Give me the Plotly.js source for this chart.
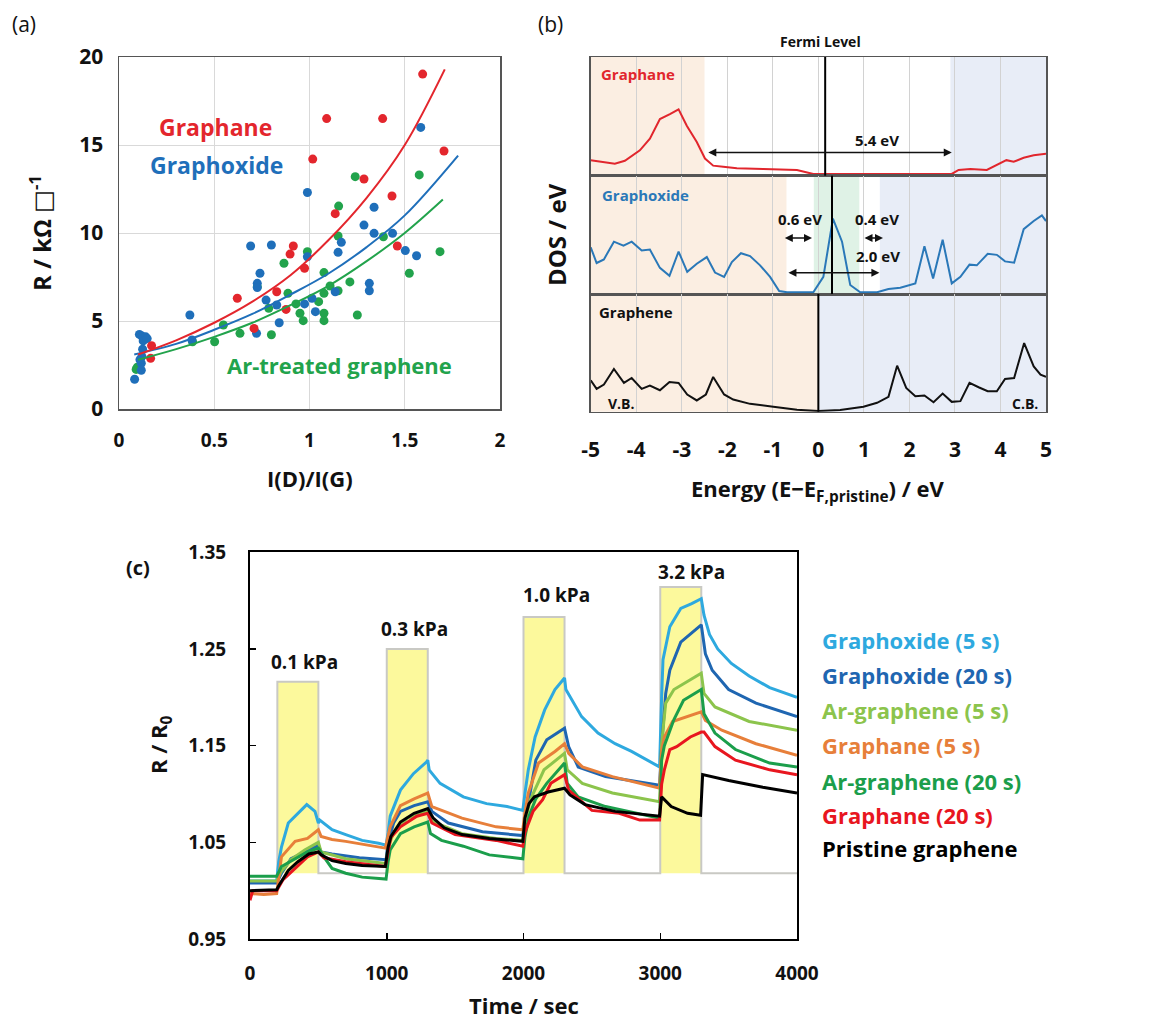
<!DOCTYPE html>
<html>
<head>
<meta charset="utf-8">
<script src="https://cdn.plot.ly/plotly-3.0.1.min.js"></script>
<style>
html,body{margin:0;padding:0;background:#fff;}
#chart{width:1156px;height:1023px;}
</style>
</head>
<body>
<div id="chart"></div>
<script>
// ---------- Panel (a): R vs I(D)/I(G) ----------
const aRedX = [1.594,1.09,1.384,1.706,1.017,1.286,1.433,1.135,0.915,0.898,1.461,0.974,0.621,0.828,0.877,0.709,0.171,0.166];
const aRedY = [19.03,16.5,16.5,14.66,14.2,13.07,12.1,11.1,9.26,8.8,9.26,8.0,6.29,6.66,5.66,4.58,3.6,2.88];
const aBlueX = [1.584,0.989,1.339,1.286,1.339,1.436,1.167,1.150,1.503,1.562,0.691,0.800,0.989,0.740,0.726,0.726,1.314,1.314,1.135,0.772,0.828,0.974,1.013,1.031,0.841,0.722,0.372,0.383,0.107,0.120,0.140,0.127,0.148,0.124,0.120,0.117,0.082,0.110,0.117];
const aBlueY = [16.0,12.3,11.46,10.45,9.98,9.98,9.47,8.9,9.0,8.71,9.26,9.32,8.65,7.71,7.14,6.9,7.14,6.72,6.66,6.19,5.91,5.97,6.29,5.53,4.9,4.3,5.34,3.92,4.24,4.15,4.1,3.87,4.0,3.4,2.98,2.6,1.69,2.8,2.2];
const aGreenX = [1.24,1.576,1.153,1.150,1.388,0.989,1.685,0.866,1.076,1.524,1.212,1.108,1.150,1.076,0.726,0.887,1.048,0.929,0.786,0.950,1.076,1.251,0.967,1.076,0.548,0.635,0.800,0.502,0.386,0.096,0.090];
const aGreenY = [13.2,13.3,11.53,9.83,9.79,8.94,8.94,8.28,7.75,7.71,7.22,6.99,6.72,6.57,6.95,6.57,6.1,5.97,5.72,5.44,5.44,5.34,5.02,5.02,4.77,4.3,4.22,3.82,3.82,2.37,2.25];
const fitRedX = [0.10,0.30,0.50,0.70,0.90,1.10,1.30,1.50,1.71];
const fitRedY = [3.1,3.9,4.9,6.1,7.6,9.6,12.0,15.0,19.3];
const fitBlueX = [0.08,0.30,0.50,0.70,0.90,1.10,1.30,1.50,1.78];
const fitBlueY = [3.1,3.7,4.5,5.4,6.5,7.7,9.2,11.0,14.4];
const fitGreenX = [0.10,0.30,0.50,0.70,0.90,1.10,1.30,1.50,1.70];
const fitGreenY = [2.8,3.4,4.1,4.9,5.9,7.0,8.4,10.0,11.9];

// ---------- Panel (b): DOS ----------
const graphaneE = [-5,-4.72,-4.47,-4.25,-3.92,-3.70,-3.48,-3.26,-3.07,-2.89,-2.67,-2.49,-2.31,-2.09,-1.79,-1.21,-0.77,-0.47,-0.11,0.15,2.93,3.08,3.34,3.70,3.92,4.13,4.29,4.51,4.73,5.0];
const graphaneDOS = [0.118,0.099,0.088,0.113,0.202,0.301,0.469,0.511,0.553,0.413,0.273,0.132,0.071,0.062,0.048,0.042,0.034,0.034,0.0,0.0,0.0,0.034,0.042,0.034,0.076,0.118,0.104,0.138,0.16,0.172];
const graphoxideE = [-5,-4.87,-4.71,-4.49,-4.28,-4.10,-3.88,-3.70,-3.48,-3.27,-3.07,-2.88,-2.67,-2.45,-2.27,-2.07,-1.90,-1.70,-1.50,-1.28,-1.06,-0.86,-0.69,-0.11,0.11,0.32,0.52,0.70,0.92,1.29,1.54,1.80,2.13,2.33,2.52,2.73,2.93,3.12,3.32,3.48,3.72,3.92,4.10,4.30,4.51,4.73,4.91,5.0];
const graphoxideDOS = [0.386,0.251,0.282,0.434,0.40,0.434,0.358,0.366,0.209,0.141,0.349,0.175,0.245,0.302,0.169,0.132,0.259,0.335,0.31,0.231,0.132,0.011,0.0,0.0,0.132,0.631,0.434,0.062,0.0,0.0,0.028,0.039,0.076,0.394,0.118,0.451,0.076,0.132,0.237,0.231,0.33,0.321,0.265,0.254,0.541,0.611,0.659,0.611];
const grapheneE = [-5,-4.87,-4.71,-4.49,-4.27,-4.10,-3.88,-3.70,-3.48,-3.27,-3.07,-2.88,-2.67,-2.47,-2.31,-2.07,-1.87,-1.50,-0.99,-0.47,0,0.48,0.99,1.29,1.54,1.73,1.93,2.13,2.33,2.53,2.73,2.93,3.12,3.32,3.52,3.72,3.92,4.10,4.30,4.52,4.73,4.88,5.0];
const grapheneDOS = [0.263,0.19,0.227,0.36,0.241,0.283,0.19,0.218,0.178,0.249,0.241,0.142,0.091,0.142,0.292,0.142,0.099,0.062,0.037,0.012,0.0,0.01,0.037,0.071,0.122,0.388,0.198,0.127,0.133,0.076,0.15,0.079,0.085,0.241,0.204,0.17,0.17,0.275,0.283,0.581,0.382,0.312,0.292];
const energyTicks = [-5,-4,-3,-2,-1,0,1,2,3,4,5];
const energyTickText = ['-5','-4','-3','-2','-1','0','1','2','3','4','5'];
// shaded bands [from, to] in eV
const graphaneVB = [-5,-2.5], graphaneCB = [2.9,5];
const graphoxideVB = [-5,-0.7], graphoxideMid = [-0.1,0.9], graphoxideCB = [1.35,5];
const grapheneVB = [-5,0], grapheneCB = [0,5];
const fermiLevels = [0.15, 0.3, 0.0]; // graphane, graphoxide, graphene
const gapArrows = [
  {from:-2.45, to:2.93, y:0.183, ax:'y2'},
  {from:-0.77, to:-0.14, y:0.465, ax:'y3'},
  {from:0.98,  to:1.42,  y:0.465, ax:'y3'},
  {from:-0.69, to:1.34,  y:0.167, ax:'y3'}
];
const gapLabels = ['5.4 eV','0.6 eV','0.4 eV','2.0 eV'];
const gapLabelPos = [[1.29,0.29,'y2'],[-0.40,0.626,'y3'],[1.29,0.626,'y3'],[1.31,0.313,'y3']];

// ---------- Panel (c): R/R0 vs time ----------
const pulseStart = [200,1000,2000,3000];
const pulseEnd = [500,1300,2300,3300];
const pulseTop = [1.216,1.25,1.283,1.314];
const pulseBase = 1.018;
const pulseLabels = ['0.1 kPa','0.3 kPa','1.0 kPa','3.2 kPa'];
const pulseLabelT = [402,1206,2242,3229];
const pulseLabelV = [1.237,1.271,1.306,1.330];

const gox5T = [0,100,195,210,230,280,350,415,475,500,510,600,700,820,940,995,1010,1025,1100,1195,1290,1300,1310,1390,1560,1730,1880,1995,2010,2035,2085,2155,2230,2300,2310,2425,2545,2670,2790,2910,2995,3010,3020,3070,3150,3230,3300,3320,3360,3420,3520,3650,3800,4000];
const gox5V = [1.010,1.010,1.010,1.030,1.045,1.070,1.080,1.089,1.082,1.070,1.073,1.063,1.058,1.052,1.049,1.047,1.060,1.077,1.104,1.121,1.133,1.135,1.125,1.111,1.097,1.090,1.087,1.083,1.100,1.125,1.159,1.187,1.208,1.220,1.208,1.180,1.163,1.152,1.144,1.135,1.128,1.200,1.239,1.273,1.292,1.297,1.302,1.285,1.265,1.250,1.235,1.222,1.210,1.200];
const gox20T = [0,195,230,300,400,500,520,600,800,995,1010,1050,1100,1200,1300,1330,1450,1700,1995,2010,2040,2090,2170,2300,2330,2400,2600,2995,3010,3040,3070,3150,3300,3330,3380,3500,3700,4000];
const gox20V = [1.008,1.008,1.018,1.033,1.040,1.047,1.040,1.038,1.034,1.032,1.050,1.070,1.082,1.088,1.092,1.082,1.070,1.061,1.057,1.075,1.094,1.135,1.156,1.168,1.149,1.128,1.118,1.109,1.150,1.204,1.228,1.257,1.275,1.245,1.228,1.208,1.194,1.180];
const arg5T = [0,195,230,300,400,500,520,700,995,1010,1050,1150,1300,1330,1550,1800,1995,2010,2050,2150,2300,2320,2430,2650,2995,3010,3040,3100,3300,3320,3400,3650,4000];
const arg5V = [1.010,1.010,1.020,1.032,1.042,1.050,1.040,1.033,1.028,1.045,1.060,1.075,1.082,1.072,1.059,1.054,1.052,1.070,1.094,1.125,1.142,1.125,1.111,1.101,1.092,1.152,1.194,1.208,1.225,1.204,1.190,1.175,1.166];
const gph5T = [0,100,195,230,330,420,500,520,600,700,990,1010,1025,1100,1200,1300,1330,1550,1800,1995,2010,2035,2110,2230,2300,2330,2430,2650,2995,3010,3030,3090,3300,3330,3450,3700,4000];
const gph5V = [0.997,0.996,0.997,1.035,1.051,1.054,1.063,1.056,1.053,1.051,1.044,1.055,1.066,1.088,1.095,1.101,1.087,1.075,1.066,1.063,1.080,1.101,1.132,1.144,1.152,1.142,1.128,1.118,1.106,1.145,1.159,1.175,1.185,1.176,1.166,1.152,1.140];
const arg20T = [0,195,230,330,420,500,540,600,700,820,940,995,1010,1025,1100,1200,1300,1320,1400,1560,1750,1995,2010,2040,2090,2170,2300,2320,2400,2600,2995,3010,3030,3100,3170,3300,3320,3400,3550,3800,4000];
const arg20V = [1.015,1.015,1.025,1.033,1.040,1.044,1.035,1.023,1.018,1.014,1.013,1.012,1.030,1.042,1.059,1.066,1.071,1.059,1.052,1.046,1.037,1.033,1.055,1.077,1.095,1.111,1.132,1.111,1.097,1.087,1.075,1.135,1.150,1.177,1.197,1.208,1.183,1.163,1.146,1.132,1.128];
const gph20T = [0,20,100,195,240,330,420,500,540,700,990,1010,1030,1100,1220,1300,1330,1500,1800,1995,2010,2070,2140,2200,2300,2330,2500,2700,2850,2995,3010,3030,3070,3120,3220,3300,3320,3400,3550,3800,4000];
const gph20V = [0.990,1.000,1.000,1.000,1.011,1.023,1.035,1.040,1.034,1.030,1.025,1.040,1.055,1.066,1.077,1.080,1.070,1.058,1.052,1.046,1.060,1.082,1.094,1.111,1.120,1.104,1.083,1.080,1.073,1.073,1.110,1.125,1.146,1.149,1.159,1.164,1.164,1.149,1.135,1.125,1.120];
const pristT = [0,195,210,280,350,430,500,520,600,700,820,990,1010,1030,1100,1200,1300,1340,1420,1550,1750,1995,2010,2040,2080,2180,2300,2340,2450,2670,2995,3010,3080,3200,3295,3300,3310,3500,3750,4000];
const pristV = [1.000,1.001,1.005,1.021,1.030,1.038,1.040,1.037,1.031,1.028,1.026,1.025,1.045,1.056,1.071,1.080,1.085,1.075,1.065,1.058,1.054,1.051,1.075,1.090,1.097,1.102,1.106,1.099,1.089,1.082,1.077,1.097,1.087,1.080,1.078,1.100,1.120,1.114,1.107,1.101];

const seriesNames = ['Graphoxide (5 s)','Graphoxide (20 s)','Ar-graphene (5 s)','Graphane (5 s)','Ar-graphene (20 s)','Graphane (20 s)','Pristine graphene'];
const seriesColors = ['#2ea9df','#1f66b1','#8cc44c','#e77f3a','#1b9e4b','#e8161f','#000000'];
const seriesT = [gox5T,gox20T,arg5T,gph5T,arg20T,gph20T,pristT];
const seriesV = [gox5V,gox20V,arg5V,gph5V,arg20V,gph20V,pristV];

// ---------- build ----------
const FONT = 'Open Sans, DejaVu Sans, sans-serif';
const W = 1156, H = 1023;
const px = v => v / W, py = v => 1 - v / H;

const traces = [];
// panel a
traces.push({x:aGreenX,y:aGreenY,type:'scatter',mode:'markers',marker:{color:'#22a34c',size:9},xaxis:'x',yaxis:'y',hoverinfo:'skip'});
traces.push({x:aBlueX,y:aBlueY,type:'scatter',mode:'markers',marker:{color:'#1f6fba',size:9},xaxis:'x',yaxis:'y',hoverinfo:'skip'});
traces.push({x:aRedX,y:aRedY,type:'scatter',mode:'markers',marker:{color:'#e3262d',size:9},xaxis:'x',yaxis:'y',hoverinfo:'skip'});
traces.push({x:fitGreenX,y:fitGreenY,type:'scatter',mode:'lines',line:{color:'#22a34c',width:2,shape:'spline'},xaxis:'x',yaxis:'y'});
traces.push({x:fitBlueX,y:fitBlueY,type:'scatter',mode:'lines',line:{color:'#1f6fba',width:2,shape:'spline'},xaxis:'x',yaxis:'y'});
traces.push({x:fitRedX,y:fitRedY,type:'scatter',mode:'lines',line:{color:'#e3262d',width:2,shape:'spline'},xaxis:'x',yaxis:'y'});
// panel b
traces.push({x:graphaneE,y:graphaneDOS,type:'scatter',mode:'lines',line:{color:'#e1262d',width:2},xaxis:'x2',yaxis:'y2'});
traces.push({x:graphoxideE,y:graphoxideDOS,type:'scatter',mode:'lines',line:{color:'#2a78b8',width:2},xaxis:'x2',yaxis:'y3'});
traces.push({x:grapheneE,y:grapheneDOS,type:'scatter',mode:'lines',line:{color:'#111',width:2},xaxis:'x2',yaxis:'y4'});
// panel c pulse outline
const wx = [], wy = [];
pulseStart.forEach((s,i)=>{ wx.push(s,s,pulseEnd[i],pulseEnd[i]); wy.push(pulseBase,pulseTop[i],pulseTop[i],pulseBase); });
wx.push(4000); wy.push(pulseBase);
traces.push({x:wx,y:wy,type:'scatter',mode:'lines',line:{color:'#c9c9c4',width:2},xaxis:'x3',yaxis:'y5'});
seriesT.forEach((t,i)=>{
  traces.push({x:t,y:seriesV[i],type:'scatter',mode:'lines',name:seriesNames[i],line:{color:seriesColors[i],width:3},xaxis:'x3',yaxis:'y5'});
});

const shapes = [];
function band(r, yref, color){ shapes.push({type:'rect',xref:'x2',yref:yref+' domain',x0:r[0],x1:r[1],y0:0,y1:1,fillcolor:color,line:{width:0},layer:'below'}); }
const ORANGE='#fbeee2', BLUE='#e8edf7', GREEN='#dff2e6';
band(graphaneVB,'y2',ORANGE); band(graphaneCB,'y2',BLUE);
band(graphoxideVB,'y3',ORANGE); band(graphoxideMid,'y3',GREEN); band(graphoxideCB,'y3',BLUE);
band(grapheneVB,'y4',ORANGE); band(grapheneCB,'y4',BLUE);
['y2','y3','y4'].forEach((yr,i)=>{
  shapes.push({type:'line',xref:'x2',yref:yr+' domain',x0:fermiLevels[i],x1:fermiLevels[i],y0:0,y1:1,line:{color:'#000',width:2},layer:'above'});
});
pulseStart.forEach((s,i)=>{
  shapes.push({type:'rect',xref:'x3',yref:'y5',x0:s,x1:pulseEnd[i],y0:pulseBase,y1:pulseTop[i],fillcolor:'#fcf99c',line:{width:0},layer:'below'});
});

const annotations = [];
function txt(x,y,text,size,opts){ annotations.push(Object.assign({xref:'paper',yref:'paper',x:px(x),y:py(y),text:text,showarrow:false,font:{family:FONT,size:size,color:'#111'},xanchor:'center',yanchor:'middle'},opts||{})); }
// panel letters
txt(24,24,'(a)',21);
txt(550,24,'(b)',21);
txt(138,567,'<b>(c)</b>',20);
// panel a labels
annotations.push({xref:'x',yref:'y',x:0.504,y:16.0,text:'<b>Graphane</b>',showarrow:false,font:{family:FONT,size:23,color:'#e3262d'}});
annotations.push({xref:'x',yref:'y',x:0.514,y:13.86,text:'<b>Graphoxide</b>',showarrow:false,font:{family:FONT,size:23,color:'#1f6fba'}});
annotations.push({xref:'x',yref:'y',x:1.16,y:2.5,text:'<b>Ar-treated graphene</b>',showarrow:false,font:{family:FONT,size:22,color:'#22a34c'}});
txt(40,233,'<b>R / kΩ □<sup>-1</sup></b>',24,{textangle:-90});
txt(310,478,'<b>I(D)/I(G)</b>',22);
// panel b labels
txt(821,42,'<b>Fermi Level</b>',14);
txt(599,74,'<b>Graphane</b>',15,{xanchor:'left',font:{family:FONT,size:15,color:'#e1262d'}});
txt(600,195,'<b>Graphoxide</b>',15,{xanchor:'left',font:{family:FONT,size:15,color:'#2a78b8'}});
txt(597,312,'<b>Graphene</b>',15,{xanchor:'left'});
txt(606,403,'<b>V.B.</b>',14,{xanchor:'left'});
txt(1040,403,'<b>C.B.</b>',14,{xanchor:'right'});
txt(556,235,'<b>DOS / eV</b>',24,{textangle:-90});
txt(818,490,'<b>Energy (E−E<sub>F,pristine</sub>) / eV</b>',22);
gapArrows.forEach(a=>{
  annotations.push({xref:'x2',yref:a.ax,axref:'x2',ayref:a.ax,x:a.to,y:a.y,ax:a.from,ay:a.y,text:'',showarrow:true,arrowhead:2,startarrowhead:2,arrowside:'end+start',arrowsize:1,arrowwidth:1.6,arrowcolor:'#111'});
});
gapLabels.forEach((l,i)=>{
  annotations.push({xref:'x2',yref:gapLabelPos[i][2],x:gapLabelPos[i][0],y:gapLabelPos[i][1],text:'<b>'+l+'</b>',showarrow:false,font:{family:FONT,size:15,color:'#111'}});
});
// panel c labels
pulseLabels.forEach((l,i)=>{
  annotations.push({xref:'x3',yref:'y5',x:pulseLabelT[i],y:pulseLabelV[i],text:'<b>'+l+'</b>',showarrow:false,font:{family:FONT,size:19,color:'#111'}});
});
txt(160,745,'<b>R / R<sub>0</sub></b>',22,{textangle:-90});
txt(524,1005,'<b>Time / sec</b>',22);
const legendY = [640,675,710,745,781,815,848];
seriesNames.forEach((n,i)=>{
  txt(820,legendY[i],'<b>'+n+'</b>',22,{xanchor:'left',font:{family:FONT,size:22,color:seriesColors[i]}});
});

const tickFont = (s)=>({family:FONT,size:s,color:'#111',weight:'bold'});
const layout = {
  width:W,height:H,margin:{l:0,r:0,t:0,b:0},showlegend:false,
  paper_bgcolor:'#fff',plot_bgcolor:'rgba(0,0,0,0)',
  xaxis:{domain:[px(119),px(500)],range:[0,2],dtick:0.5,tick0:0,anchor:'y',showgrid:true,gridcolor:'#d9d9d9',gridwidth:1,zeroline:false,showline:true,mirror:true,linecolor:'#555',linewidth:1.5,ticks:'',tickfont:tickFont(19),ticklabelstandoff:14},
  yaxis:{domain:[py(409),py(57)],range:[0,20],dtick:5,tick0:0,anchor:'x',showgrid:true,gridcolor:'#d9d9d9',gridwidth:1,zeroline:false,showline:true,mirror:true,linecolor:'#555',linewidth:1.5,ticks:'',tickfont:tickFont(21),ticklabelstandoff:10},
  xaxis2:{domain:[px(590.7),px(1046)],range:[-5,5],tickmode:'array',tickvals:energyTicks,ticktext:energyTickText,anchor:'y4',showgrid:true,gridcolor:'#d2d2d2',gridwidth:1,zeroline:false,showline:true,mirror:'all',linecolor:'#555',linewidth:1.5,ticks:'',tickfont:tickFont(21),ticklabelstandoff:19},
  yaxis2:{domain:[py(175.7),py(57)],range:[-0.015,1],anchor:'x2',showgrid:false,zeroline:false,showticklabels:false,ticks:'',showline:true,mirror:true,linecolor:'#555',linewidth:1.5},
  yaxis3:{domain:[py(294),py(175.7)],range:[-0.015,1],anchor:'x2',showgrid:false,zeroline:false,showticklabels:false,ticks:'',showline:true,mirror:true,linecolor:'#555',linewidth:1.5},
  yaxis4:{domain:[py(411.7),py(294)],range:[-0.005,1],anchor:'x2',showgrid:false,zeroline:false,showticklabels:false,ticks:'',showline:true,mirror:true,linecolor:'#555',linewidth:1.5},
  xaxis3:{domain:[px(250),px(797)],range:[0,4000],dtick:1000,tick0:0,anchor:'y5',showgrid:false,zeroline:false,showline:true,mirror:true,linecolor:'#000',linewidth:2,ticks:'inside',ticklen:6,tickwidth:1.5,tickcolor:'#000',tickfont:tickFont(19),ticklabelstandoff:16},
  yaxis5:{domain:[py(939),py(552.3)],range:[0.95,1.35],dtick:0.1,tick0:0.95,tickformat:'.2f',anchor:'x3',showgrid:false,zeroline:false,showline:true,mirror:true,linecolor:'#000',linewidth:2,ticks:'inside',ticklen:6,tickwidth:1.5,tickcolor:'#000',tickfont:tickFont(19),ticklabelstandoff:18},
  shapes:shapes,
  annotations:annotations
};
Plotly.newPlot('chart',traces,layout,{staticPlot:true,displayModeBar:false});
</script>
</body>
</html>
